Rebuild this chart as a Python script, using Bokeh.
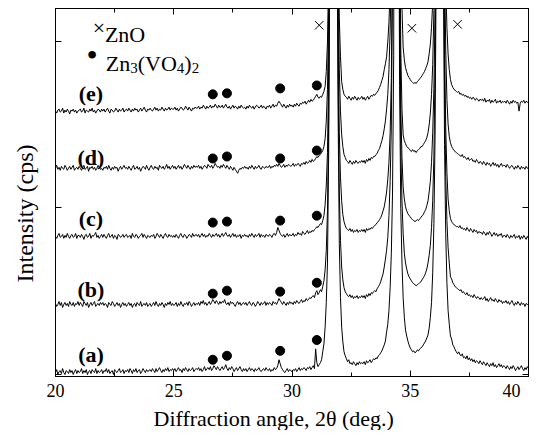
import numpy as np
from bokeh.plotting import figure
from bokeh.models import Range1d, LinearAxis, SingleIntervalTicker, FixedTicker, Label, Title
from bokeh.embed import file_html
from bokeh.resources import INLINE

# ---------------- data ----------------
two_theta = np.round(np.arange(20.0, 40.001, 0.05), 2)   # sampling grid, deg. (401 pts)

sample_labels = ["(a)", "(b)", "(c)", "(d)", "(e)"]
offsets = [3, 71, 140, 209, 267]          # vertical stacking offsets (cps)
y_ticks = [0, 169, 338]
x_ticks = [20, 25, 30, 35, 40]
x_label = "Diffraction angle, 2θ (deg.)"
y_label = "Intensity (cps)"

int_a = [
    -1, 2, -3, 0, 1, -2, 3, -1, -3, 1, 0, -2, 2, -1, 1, -3, 0, 2, -2, 1,
    -1, 0, 3, -2, 1, -1, 2, -3, 0, 1, -2, 2, 0, -1, 3, -2, 1, -1, 0, 2,
    -2, 1, 0, 3, -1, 2, -2, 0, 1, -3, 2, 0, -1, 1, 3, -1, 0, 2, -2, 1,
    0, 2, -1, 3, 1, -2, 2, 0, 3, -1, 1, 2, -2, 0, 3, 1, -1, 2, 0, 1,
    2, 0, 3, 1, -1, 3, 0, 2, 4, 1, -1, 2, 0, 3, 1, 4, 0, 2, 1, 3,
    1, 3, 0, 2, 4, 1, 2, -1, 3, 1, 4, 2, 0, 3, 1, 2, 4, 0, 2, 3,
    2, 4, 1, 3, 0, 2, 5, 1, 3, 4, 2, 5, 1, 3, 6, 4, 2, 5, 3, 1,
    3, 5, 2, 4, 7, 3, 1, 4, 2, 5, 3, 0, 2, 4, 1, 3, 5, 2, 0, 3,
    1, 3, 0, 2, 4, 1, 3, 2, 0, 3, 1, 2, 4, 1, 0, 2, 3, 1, 4, 2,
    1, 3, 0, 2, 1, 4, 2, 3, 6, 12, 8, 4, 2, 0, -1, 1, 3, 0, 2, 1,
    0, 2, 1, 3, 0, 2, 4, 1, 3, 2, 4, 3, 1, 4, 3, 5, 2, 4, 6, 3,
    23, 9, 5, 7, 9, 12, 20, 28, 45, 70, 110, 220, 440, 1200, 3000, 4000, 3000, 1200, 520, 260,
    130, 75, 45, 30, 20, 16, 13, 10, 12, 8, 9, 7, 10, 8, 6, 9, 7, 10, 8, 9,
    8, 10, 7, 11, 9, 10, 12, 9, 11, 13, 12, 14, 13, 16, 17, 19, 21, 24, 27, 31,
    40, 48, 62, 85, 120, 180, 320, 900, 4000, 2500, 600, 290, 165, 110, 75, 55, 42, 36, 31, 27,
    24, 22, 20, 21, 19, 20, 22, 21, 23, 24, 25, 27, 29, 31, 34, 37, 44, 55, 70, 100,
    150, 240, 420, 900, 2500, 4200, 2500, 900, 420, 230, 140, 90, 62, 48, 36, 33, 27, 25, 22, 20,
    18, 20, 17, 16, 18, 14, 15, 13, 16, 12, 14, 11, 13, 10, 12, 9, 11, 10, 8, 11,
    9, 7, 10, 8, 6, 9, 7, 5, 8, 6, 9, 5, 7, 4, 6, 8, 5, 7, 4, 6,
    5, 3, 6, 4, 2, 5, 3, 6, 4, 1, 3, 5, 2, 4, 6, 3, 1, 4, 2, 5,
    3]

int_b = [
    1, -2, 0, 3, -1, 2, -3, 0, 2, -1, 1, -2, 3, 0, -1, 2, -2, 1, 0, 3,
    -1, 2, 0, -2, 3, 1, -1, 2, -3, 0, 2, -1, 1, 3, -2, 0, 1, -1, 2, 0,
    2, -1, 1, 0, -3, 2, 0, -1, 3, 1, -2, 0, 2, -1, 1, -3, 0, 2, -1, 1,
    -2, 0, 2, -1, 1, -3, 0, 1, -2, 2, 0, -1, 3, -2, 0, 1, -1, 2, -2, 0,
    1, -2, 0, 2, -1, 3, 0, -2, 1, -1, 2, 0, -3, 1, -1, 2, 0, 3, -1, 1,
    -1, 0, 2, -2, 1, -1, 3, 0, -2, 1, 0, 2, -1, 3, 1, -2, 0, 2, -1, 1,
    0, 2, -1, 3, 1, 4, 0, 2, -1, 1, 3, 0, 2, 5, 3, 1, 4, 2, 0, 3,
    1, 3, 2, 5, 1, 0, 2, -1, 3, 1, 2, 0, -2, 1, 3, 0, 2, -1, 1, 2,
    0, 2, -1, 1, 3, 0, -1, 2, 1, -2, 0, 3, 1, -1, 2, 0, 1, 3, -1, 2,
    0, 2, 1, -1, 3, 1, 2, 0, 3, 6, 4, 2, 0, 3, 1, -1, 2, 0, 3, 1,
    2, 0, 3, 1, 4, 2, 1, 3, 5, 2, 4, 3, 6, 4, 5, 7, 6, 8, 9, 7,
    12, 14, 10, 12, 15, 13, 18, 24, 35, 55, 95, 190, 380, 1100, 2800, 3600, 2800, 1100, 470, 230,
    115, 65, 38, 25, 17, 13, 11, 9, 8, 10, 7, 9, 6, 8, 7, 9, 6, 8, 7, 9,
    7, 9, 6, 10, 8, 11, 9, 12, 11, 13, 14, 13, 16, 18, 20, 23, 27, 31, 38, 46,
    55, 68, 90, 125, 180, 320, 850, 2400, 4000, 2400, 600, 280, 160, 105, 72, 52, 42, 36, 31, 28,
    26, 24, 22, 21, 20, 19, 20, 21, 22, 23, 25, 27, 29, 32, 36, 42, 50, 60, 78, 105,
    150, 240, 420, 900, 2500, 4000, 2400, 880, 400, 220, 130, 85, 58, 42, 28, 26, 22, 20, 18, 17,
    16, 15, 14, 15, 12, 13, 11, 10, 12, 9, 10, 8, 9, 7, 10, 8, 6, 8, 7, 5,
    7, 5, 6, 8, 4, 6, 3, 5, 7, 4, 5, 3, 6, 4, 2, 5, 3, 4, 1, 3,
    2, 4, 1, 3, 0, 2, 4, 1, -1, 2, 0, 3, 1, -1, 2, 0, 1, -2, 1, 0,
    0]

int_c = [
    0, -2, 1, 3, -1, 0, 2, -2, 1, -1, 3, 0, -2, 1, 2, -1, 0, 3, -2, 1,
    1, -1, 2, 0, -3, 1, 2, -1, 0, 3, -2, 1, 0, 2, 4, -1, 1, -2, 0, 2,
    -1, 2, 0, -2, 1, 3, -1, 0, 2, -2, 1, 0, -3, 2, 1, -1, 0, 2, -1, 1,
    2, -1, 0, 1, -2, 3, 0, -1, 2, 1, -2, 0, 1, 3, -1, 2, 0, -2, 1, 0,
    -1, 1, 0, 2, -2, 0, 3, 1, -1, 2, 0, -2, 1, 3, 0, -1, 2, 0, 1, -1,
    1, -1, 2, 0, -2, 1, 3, 0, -1, 2, 1, -2, 0, 2, 1, -1, 3, 0, 1, 2,
    0, 2, -1, 1, 3, 0, 2, -1, 1, 0, 3, 1, -1, 2, 0, 1, 3, 0, 2, -1,
    1, 3, 0, 2, 4, 1, 0, 2, -1, 1, 3, 0, 2, -1, 1, 0, 2, -2, 1, 0,
    2, 0, 1, -1, 2, 0, 3, 1, -1, 2, 0, 1, 3, -1, 2, 0, 1, -1, 2, 1,
    0, 2, 1, -1, 2, 3, 1, 4, 9, 6, 3, 1, 0, 2, -1, 1, 3, 0, 2, 1,
    1, 3, 0, 2, 1, 4, 2, 3, 1, 5, 3, 2, 4, 6, 3, 5, 4, 6, 5, 7,
    8, 10, 9, 11, 13, 12, 16, 21, 32, 52, 85, 170, 350, 1000, 2600, 3400, 2600, 1000, 440, 210,
    105, 60, 36, 22, 15, 11, 8, 7, 6, 8, 5, 7, 4, 6, 5, 7, 4, 6, 5, 7,
    5, 7, 4, 8, 6, 8, 7, 9, 8, 10, 11, 12, 14, 15, 17, 19, 22, 26, 30, 37,
    45, 58, 75, 105, 160, 300, 800, 2300, 3800, 2300, 580, 260, 130, 80, 50, 38, 30, 26, 23, 21,
    20, 18, 17, 16, 15, 16, 17, 16, 18, 19, 21, 22, 25, 27, 31, 36, 45, 56, 75, 105,
    150, 230, 400, 850, 2400, 3900, 2300, 850, 380, 200, 110, 65, 38, 26, 18, 15, 13, 12, 11, 10,
    10, 9, 11, 8, 9, 7, 8, 6, 9, 7, 5, 8, 6, 4, 7, 5, 6, 3, 5, 4,
    4, 2, 5, 3, 1, 4, 2, 5, 3, 0, 2, 4, 1, 3, 0, 2, 1, 3, -1, 1,
    1, -1, 2, 0, -2, 1, -1, 0, 2, -2, 0, -1, 1, -3, 0, -2, 1, -1, -3, 0,
    -2]

int_d = [
    0, 3, -1, 1, -2, 2, 0, -1, 3, 1, -2, 0, 2, -1, 1, 3, -2, 0, 1, -1,
    2, 0, -2, 1, 3, -1, 0, 2, -3, 1, 0, 2, -1, 1, -2, 0, 3, 1, -1, 0,
    -2, 1, 0, 2, -1, 3, 0, -2, 1, -1, 2, 0, 1, -3, 0, 2, -1, 1, 3, 0,
    1, -1, 2, 0, -2, 1, 3, -1, 0, 2, -1, 1, -3, 0, 2, 1, -1, 3, 0, -2,
    1, 3, 0, -1, 2, 0, 1, -2, 3, 1, 0, 2, -1, 1, 4, 0, 2, -1, 1, 3,
    0, 2, -1, 1, 3, 0, 2, -1, 1, 4, 2, 0, 3, 1, -1, 2, 0, 3, 1, 2,
    1, 3, 0, 2, -1, 1, 3, 2, 0, 4, 2, 1, 3, 0, 2, 5, 3, 1, 2, 0,
    3, 1, 4, 2, 0, 3, 1, -1, 2, 0, -2, 1, -1, -3, -5, -2, 0, -1, 1, 0,
    2, 0, 1, -1, 2, 0, 3, 1, -1, 2, 0, 1, 3, 0, -1, 2, 1, 0, 2, 1,
    1, 3, 0, 2, 1, 3, 2, 4, 2, 5, 3, 1, 2, 4, 1, 3, 2, 4, 3, 2,
    3, 5, 2, 4, 3, 5, 4, 2, 5, 4, 6, 4, 7, 5, 6, 8, 6, 9, 7, 8,
    10, 12, 11, 13, 14, 16, 18, 22, 30, 48, 80, 160, 330, 950, 2500, 3300, 2500, 950, 420, 200,
    100, 58, 34, 22, 14, 11, 8, 7, 5, 8, 6, 4, 7, 5, 8, 6, 5, 7, 6, 8,
    6, 8, 5, 9, 7, 10, 8, 11, 10, 12, 12, 14, 15, 18, 20, 24, 28, 33, 40, 48,
    60, 75, 100, 140, 200, 360, 850, 2400, 3900, 2400, 620, 280, 120, 60, 34, 28, 25, 22, 21, 20,
    18, 17, 19, 17, 18, 16, 18, 19, 20, 22, 22, 24, 26, 28, 31, 36, 44, 56, 75, 105,
    160, 250, 420, 900, 2500, 4000, 2400, 880, 400, 210, 120, 70, 45, 32, 26, 22, 20, 18, 17, 16,
    15, 14, 13, 12, 14, 11, 12, 10, 9, 11, 8, 9, 10, 7, 8, 6, 9, 7, 5, 7,
    6, 4, 7, 5, 3, 6, 4, 5, 2, 4, 6, 3, 5, 2, 4, 1, 3, 5, 2, 3,
    3, 1, 4, 2, 0, 2, 3, 1, -1, 2, 0, 3, 1, -1, 2, 0, 1, -1, 2, 0,
    1]

int_e = [
    0, -2, 1, 2, -1, 0, 3, -2, 1, -1, 2, 0, -3, 1, 0, 2, -1, 1, -2, 0,
    1, 2, -1, 0, 3, -2, 1, 0, -1, 2, 0, 3, -1, 1, -2, 0, 2, 1, -1, 2,
    0, 2, -1, 1, 3, 0, -2, 2, 1, -1, 0, 3, 1, -1, 2, 0, 1, 3, -1, 1,
    2, 0, 3, 1, -1, 2, 0, 3, 1, 2, -1, 1, 3, 0, 2, 4, 1, -1, 2, 1,
    3, 1, 0, 2, 4, 1, 3, 0, 2, 1, 4, 2, 0, 3, 1, 2, 4, 1, 3, 2,
    2, 4, 1, 3, 0, 2, 4, 3, 1, 2, 5, 3, 1, 4, 2, 0, 3, 2, 4, 3,
    3, 5, 2, 4, 3, 6, 4, 2, 5, 3, 4, 6, 3, 5, 4, 7, 5, 3, 6, 4,
    4, 6, 3, 5, 7, 4, 3, 5, 2, 4, 6, 3, 5, 4, 2, 5, 3, 6, 4, 3,
    4, 2, 5, 3, 6, 4, 3, 5, 2, 4, 6, 5, 3, 4, 6, 3, 5, 4, 2, 5,
    4, 6, 3, 5, 7, 4, 6, 5, 8, 10, 8, 6, 4, 7, 5, 3, 6, 4, 7, 5,
    6, 4, 7, 5, 8, 6, 5, 8, 7, 9, 8, 10, 7, 9, 11, 9, 12, 10, 11, 13,
    15, 17, 14, 13, 15, 14, 17, 20, 25, 40, 70, 140, 290, 850, 2300, 3100, 2300, 850, 380, 180,
    95, 55, 30, 22, 17, 15, 14, 12, 15, 13, 11, 14, 12, 15, 13, 11, 14, 12, 13, 15,
    12, 14, 11, 13, 15, 12, 14, 16, 15, 17, 16, 18, 19, 21, 24, 27, 31, 35, 42, 48,
    55, 70, 90, 125, 180, 330, 850, 2400, 3900, 2400, 650, 320, 180, 105, 65, 52, 44, 40, 36, 34,
    32, 30, 29, 28, 29, 28, 30, 31, 33, 34, 36, 38, 40, 43, 46, 50, 58, 68, 85, 110,
    150, 240, 420, 900, 2500, 4000, 2400, 880, 400, 220, 130, 85, 58, 42, 32, 27, 24, 22, 21, 20,
    19, 20, 17, 18, 16, 17, 15, 16, 14, 15, 13, 14, 12, 14, 13, 11, 13, 12, 10, 12,
    11, 12, 10, 13, 9, 11, 10, 12, 8, 11, 9, 10, 12, 8, 10, 9, 11, 8, 10, 9,
    10, 8, 11, 9, 7, 10, 8, 11, 9, 10, 8, 9, 0, 8, 10, 9, 11, 8, 10, 9,
    9]

traces = [int_a, int_b, int_c, int_d, int_e]
for tr in traces:
    assert len(tr) == len(two_theta), len(tr)

# Zn3(VO4)2 reflections (dots) and their marker heights per pattern
vo_peaks = [26.65, 27.25, 29.5, 31.05]
vo_marks_a = [15, 19, 24, 35]
vo_marks_b = [82, 85, 84, 93]
vo_marks_c = [154, 155, 156, 161]
vo_marks_d = [219, 221, 219, 227]
vo_marks_e = [284, 285, 290, 293]
vo_marks = [vo_marks_a, vo_marks_b, vo_marks_c, vo_marks_d, vo_marks_e]

# ZnO reflections (crosses)
zno_peaks = [31.15, 35.07, 37.0]
zno_marks = [354, 351, 355]

# --------------- figure ---------------
FONT = "Liberation Serif"

p = figure(width=529, height=430, output_backend="svg", toolbar_location=None,
           x_range=Range1d(20, 40), y_range=Range1d(-2, 371),
           x_axis_location=None, y_axis_location=None,
           min_border_left=55, min_border_right=1, min_border_top=8,
           min_border_bottom=49)
p.grid.visible = False
p.outline_line_color = "black"
p.outline_line_width = 1
p.background_fill_color = "white"
p.border_fill_color = "white"


def style_axis(ax, labels=True, ticks=None):
    ax.axis_line_color = "black"
    ax.axis_line_width = 1
    ax.major_tick_line_color = "black"
    ax.minor_tick_line_color = "black"
    ax.major_tick_out = 0
    ax.minor_tick_out = 0
    ax.major_tick_in = 6
    ax.minor_tick_in = 4
    if not labels:
        ax.major_label_overrides = {t: "" for t in ticks}
        ax.major_label_text_font_size = "1px"
        ax.major_label_standoff = 0


xb = LinearAxis(ticker=SingleIntervalTicker(interval=5, num_minor_ticks=2))
style_axis(xb)
xb.major_label_text_font = FONT
xb.major_label_text_font_size = "18px"
xb.major_label_text_color = "black"
xb.major_label_standoff = 4
# keep the last label inside the canvas (shift it left like the original)
xb.major_label_overrides = {40: "40" + "\u00a0" * 2}
p.add_layout(xb, "below")

# x-axis title as a bottom-aligned title below the tick labels
p.add_layout(Title(text=x_label, align="left", offset=98, vertical_align="bottom",
                   standoff=0, text_font=FONT, text_font_size="22px",
                   text_font_style="normal", text_color="black"), "below")

xa = LinearAxis(ticker=SingleIntervalTicker(interval=5, num_minor_ticks=2))
style_axis(xa, labels=False, ticks=x_ticks)
p.add_layout(xa, "above")

yl = LinearAxis(ticker=FixedTicker(ticks=y_ticks, minor_ticks=[]))
style_axis(yl, labels=False, ticks=y_ticks)
yl.axis_label = y_label + "\u00a0" * 7
yl.axis_label_text_font = FONT
yl.axis_label_text_font_size = "24px"
yl.axis_label_text_font_style = "normal"
yl.axis_label_text_color = "black"
yl.axis_label_standoff = 18
p.add_layout(yl, "left")

yr = LinearAxis(ticker=FixedTicker(ticks=y_ticks, minor_ticks=[]))
style_axis(yr, labels=False, ticks=y_ticks)
p.add_layout(yr, "right")

# patterns
for vals, off in zip(traces, offsets):
    p.line(two_theta, np.array(vals) + off, line_color="black", line_width=1)

# Zn3(VO4)2 dots
for marks in vo_marks:
    p.scatter(vo_peaks, marks, marker="circle", size=9,
              fill_color="black", line_color="black")

# ZnO crosses
p.scatter(zno_peaks, zno_marks, marker="x", size=12, line_color="black",
          line_width=1)

# sample labels
label_y = [20, 86, 158, 220, 285]
for txt, ly in zip(sample_labels, label_y):
    p.add_layout(Label(x=21.5, y=ly, text=txt, text_font=FONT,
                       text_font_size="22px", text_font_style="bold",
                       text_align="center", text_baseline="middle",
                       text_color="black"))

# legend
p.add_layout(Label(x=21.84, y=352, text="×", text_font=FONT, text_font_size="22px",
                   text_align="center", text_baseline="middle", text_color="black"))
p.add_layout(Label(x=22.09, y=345, text="ZnO", text_font=FONT, text_font_size="22px",
                   text_align="left", text_baseline="alphabetic", text_color="black"))
p.add_layout(Label(x=21.55, y=324, text="•", text_font=FONT, text_font_size="32px",
                   text_align="center", text_baseline="middle", text_color="black"))
pieces = [("Zn", 0.0, 0, "22px"), ("3", 24.4, -4, "15px"), ("(VO", 31.9, 0, "22px"),
          ("4", 71.0, -4, "15px"), (")", 78.5, 0, "22px"), ("2", 85.8, -4, "15px")]
for t, dx, dy, fs in pieces:
    p.add_layout(Label(x=22.13, y=315, x_offset=dx, y_offset=dy, text=t,
                       text_font=FONT, text_font_size=fs, text_align="left",
                       text_baseline="alphabetic", text_color="black"))

open("out.html", "w").write(file_html(p, INLINE))
